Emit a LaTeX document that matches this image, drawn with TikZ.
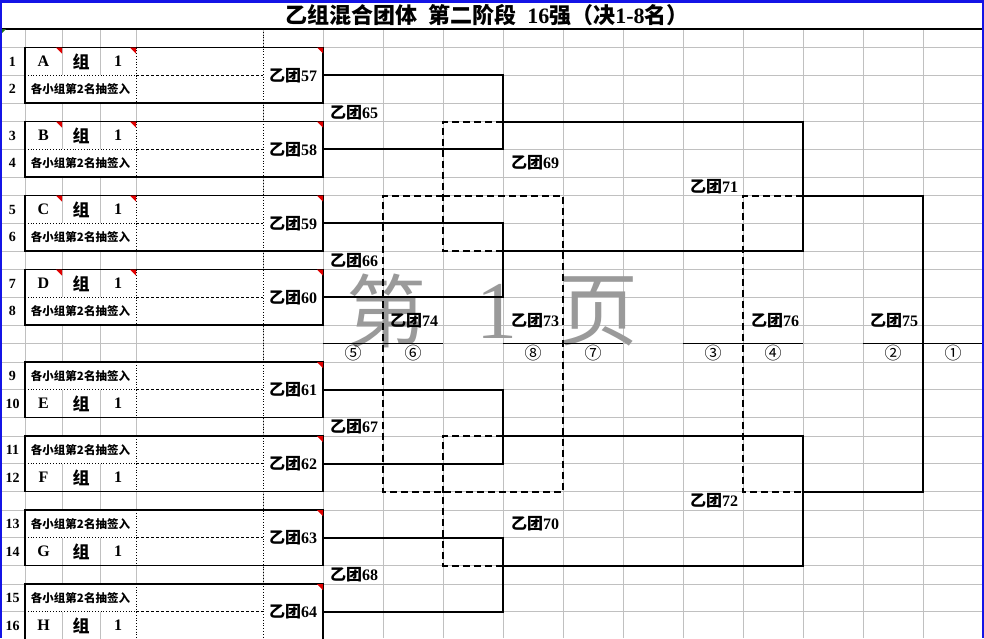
\documentclass[tikz,border=0pt]{standalone}
\usepackage{fontspec}
\setmainfont{Liberation Serif}
\newfontfamily\cjk{Noto Sans CJK SC}
\definecolor{gridline}{HTML}{C0C0C0}
\definecolor{sheetblue}{HTML}{1414E6}
\definecolor{notered}{HTML}{E00000}
\definecolor{notegreen}{HTML}{207020}
\definecolor{stamp}{HTML}{9A9A9A}
\newcommand{\tuan}[1]{{\cjk\bfseries 乙团}\textbf{#1}}
\newcommand{\drawlot}{{\cjk\bfseries\fontsize{11.5}{11.5}\selectfont 各小组第2名抽签入}}

\begin{document}
\begin{tikzpicture}[
  x=1pt, y=-1pt,
  win/.style={line width=2pt},
  lose/.style={line width=2pt, dash pattern=on 7pt off 4pt},
  cell/.style={gridline, line width=0.8pt},
  rowno/.style={font=\bfseries\fontsize{14}{14}\selectfont},
  letter/.style={font=\bfseries\fontsize{16}{16}\selectfont},
  zu/.style={font=\cjk\bfseries\fontsize{17}{17}\selectfont},
  team/.style={minimum width=60pt, minimum height=55pt, inner sep=0pt, font=\fontsize{16}{16}\selectfont},
  match/.style={anchor=west, inner sep=0pt, font=\fontsize{16}{16}\selectfont},
  place/.style={inner sep=0pt, font=\cjk\fontsize{17}{17}\selectfont},
  note/.style={notered}
]
  \useasboundingbox (0,0) rectangle (984,638);
  \fill[white] (0,0) rectangle (984,638);

  % sheet grid
  \foreach \gx in {25,62,100,136,263,323,383,443,503,563,623,683,743,803,863,923}
    \draw[cell] (\gx,29) -- (\gx,638);
  \foreach \gy in {47.5,75.25,103,121.5,149.25,177,195.5,223.25,251,269.5,297.25,325,343.5,362,389.75,417.5,436,463.75,491.5,510,537.75,565.5,584,611.75}
    \draw[cell] (0,\gy) -- (982,\gy);

  % title
  \node[font=\fontsize{22}{22}\selectfont] (title) at (487,15)
    {{\cjk\bfseries 乙组混合团体}\hspace{0.5em}{\cjk\bfseries 第二阶段}\hspace{0.5em}\textbf{16}{\cjk\bfseries 强（决}\textbf{1-8}{\cjk\bfseries 名）}};
  \draw[line width=1.2pt] (0,29) -- (982,29);

  % page stamp
  \node[stamp, font=\cjk\fontsize{80}{80}\selectfont] (wm1) at (386,311) {第};
  \node[stamp, font=\fontsize{82}{82}\selectfont] (wm2) at (497,311) {1};
  \node[stamp, font=\cjk\fontsize{80}{80}\selectfont] (wm3) at (598,311) {页};

  % group boxes, winners on top
  \foreach \ty/\g/\n/\ra/\rb in {47.5/A/57/1/2, 121.5/B/58/3/4, 195.5/C/59/5/6, 269.5/D/60/7/8}{
    \fill[white] (25,\ty) rectangle (323,\ty+55.5);
    \draw[cell] (62,\ty) -- (62,\ty+27.75) (100,\ty) -- (100,\ty+27.75);
    \draw[dotted, line width=0.8pt] (25,\ty+27.75) -- (136,\ty+27.75) (136,\ty) -- (136,\ty+55.5);
    \draw[dash pattern=on 3pt off 2pt, line width=0.8pt] (136,\ty+27.75) -- (263,\ty+27.75);
    \draw[line width=1.2pt] (25,\ty) rectangle (323,\ty+55.5);
    \node[letter] (g\g) at (43.5,\ty+14) {\g};
    \node[zu] (z\g) at (81,\ty+14) {组};
    \node[letter] (s\g) at (118,\ty+14) {1};
    \node (l\g) at (80.5,\ty+41.6) {\drawlot};
    \node[team] (t\n) at (293,\ty+27.75) {\tuan{\n}};
    \node[rowno] (r\ra) at (12.5,\ty+14) {\ra};
    \node[rowno] (r\rb) at (12.5,\ty+41.6) {\rb};
    \fill[note] (56,\ty) -- (62,\ty) -- (62,\ty+6) -- cycle;
    \fill[note] (130,\ty) -- (136,\ty) -- (136,\ty+6) -- cycle;
    \fill[note] (317,\ty) -- (323,\ty) -- (323,\ty+6) -- cycle;
  }

  % group boxes, draw on top
  \foreach \ty/\g/\n/\ra/\rb in {362/E/61/9/10, 436/F/62/11/12, 510/G/63/13/14, 584/H/64/15/16}{
    \fill[white] (25,\ty) rectangle (323,\ty+55.5);
    \draw[cell] (62,\ty+27.75) -- (62,\ty+55.5) (100,\ty+27.75) -- (100,\ty+55.5);
    \draw[dotted, line width=0.8pt] (25,\ty+27.75) -- (136,\ty+27.75) (136,\ty) -- (136,\ty+55.5);
    \draw[dash pattern=on 3pt off 2pt, line width=0.8pt] (136,\ty+27.75) -- (263,\ty+27.75);
    \draw[line width=1.2pt] (25,\ty) rectangle (323,\ty+55.5);
    \node (l\g) at (80.5,\ty+14) {\drawlot};
    \node[letter] (g\g) at (43.5,\ty+41.6) {\g};
    \node[zu] (z\g) at (81,\ty+41.6) {组};
    \node[letter] (s\g) at (118,\ty+41.6) {1};
    \node[team] (t\n) at (293,\ty+27.75) {\tuan{\n}};
    \node[rowno] (r\ra) at (12.5,\ty+14) {\ra};
    \node[rowno] (r\rb) at (12.5,\ty+41.6) {\rb};
    \fill[note] (317,\ty) -- (323,\ty) -- (323,\ty+6) -- cycle;
  }
  \draw[dotted, line width=0.8pt] (263,29) -- (263,638);

  % joints
  \coordinate (j65) at (503,121.5);
  \coordinate (j66) at (503,251);
  \coordinate (j67) at (503,436);
  \coordinate (j68) at (503,565.5);
  \coordinate (j71) at (803,195.5);
  \coordinate (j72) at (803,491.5);
  \coordinate (j75) at (923,343.5);
  \coordinate (d69) at (443,195.5);
  \coordinate (d70) at (443,491.5);
  \coordinate (d74) at (383,343.5);
  \coordinate (d73) at (563,343.5);
  \coordinate (d76) at (743,343.5);

  % losers
  \draw[lose] (j65) -| (d69) |- (j66);
  \draw[lose] (j67) -| (d70) |- (j68);
  \draw[lose] (d69) -| (d74) |- (d70);
  \draw[lose] (d69) -| (d73) |- (d70);
  \draw[lose] (j71) -| (d76) |- (j72);

  % winners
  \draw[win] (t57.east) -| (j65) |- (t58.east);
  \draw[win] (t59.east) -| (j66) |- (t60.east);
  \draw[win] (t61.east) -| (j67) |- (t62.east);
  \draw[win] (t63.east) -| (j68) |- (t64.east);
  \draw[win] (j65) -| (j71) |- (j66);
  \draw[win] (j67) -| (j72) |- (j68);
  \draw[win] (j71) -| (j75) |- (j72);

  % match labels
  \node[match] (m65) at (330,112.3) {\tuan{65}};
  \node[match] (m66) at (330,260.3) {\tuan{66}};
  \node[match] (m67) at (330,426.8) {\tuan{67}};
  \node[match] (m68) at (330,574.8) {\tuan{68}};
  \node[match] (m69) at (511,163.1) {\tuan{69}};
  \node[match] (m70) at (511,523.9) {\tuan{70}};
  \node[match] (m71) at (690,186.3) {\tuan{71}};
  \node[match] (m72) at (690,500.8) {\tuan{72}};
  \node[match] (m74) at (390,321) {\tuan{74}};
  \node[match] (m73) at (511,321) {\tuan{73}};
  \node[match] (m76) at (751,321) {\tuan{76}};
  \node[match] (m75) at (870,321) {\tuan{75}};

  % places
  \draw[line width=1pt] (323,343.5) -- (443,343.5) (503,343.5) -- (623,343.5)
    (683,343.5) -- (803,343.5) (863,343.5) -- (982,343.5);
  \node[place] (p5) at (353,353.5) {⑤};
  \node[place] (p6) at (413,353.5) {⑥};
  \node[place] (p8) at (533,353.5) {⑧};
  \node[place] (p7) at (593,353.5) {⑦};
  \node[place] (p3) at (713,353.5) {③};
  \node[place] (p4) at (773,353.5) {④};
  \node[place] (p2) at (893,353.5) {②};
  \node[place] (p1) at (953,353.5) {①};

  % sheet frame
  \fill[notegreen] (1.5,29) -- (6,29) -- (1.5,33.5) -- cycle;
  \fill[sheetblue] (0,0) rectangle (984,2.5);
  \fill[sheetblue] (0,0) rectangle (1.5,638);
  \fill[sheetblue] (981.5,0) rectangle (984,638);
\end{tikzpicture}
\end{document}
